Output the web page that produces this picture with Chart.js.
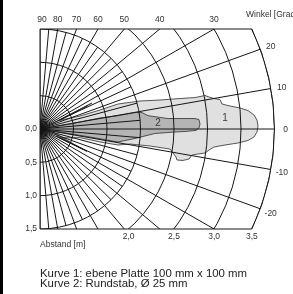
<!DOCTYPE html>
<html>
<head>
<meta charset="utf-8">
<script src="https://cdn.jsdelivr.net/npm/chart.js@4.4.1/dist/chart.umd.min.js"></script>
<style>
body{margin:0;background:#fff;}
#wrap{position:relative;width:293px;height:294px;overflow:hidden;background:#fff;}
#wrap:before{content:"";position:absolute;left:0;top:0;width:3px;height:294px;background:#000;}
canvas{position:absolute;left:0;top:0;}
.cap{position:absolute;left:40px;top:267.5px;font:11.4px "Liberation Sans",Arial,Helvetica,sans-serif;line-height:10px;color:#222;white-space:nowrap;}
</style>
</head>
<body>
<div id="wrap">
<canvas id="diagramm" width="293" height="294"></canvas>
<div class="cap">Kurve 1: ebene Platte 100 mm x 100 mm<br>Kurve 2: Rundstab, Ø 25 mm</div>
</div>
<script>

// Raster: Winkel in Grad, Abstand in m
var strahlen = [90, 80, 70, 60, 50, 40, 30, 20, 10, 0, -10, -20, -30, -40, -50, -60, -70, -80, -90];
var zwischenStrahlen = [85, 75, 65, 55, 45, 35, 25, 15, 5, -5, -15, -25, -35, -45, -55, -65, -75, -85];
var abstandRinge = [0.5, 1.0, 1.5, 2.0, 2.5, 3.0, 3.5];
var winkelOben = [90, 80, 70, 60, 50, 40, 30];
var winkelRechts = [20, 10, 0, -10, -20];
var abstandLinks = [0.0, 0.5, 1.0, 1.5];
var abstandUnten = [2.0, 2.5, 3.0, 3.5];

// Kurve 1: ebene Platte (x = Abstand, y = seitlich, in m)
var kurve1X = [0, 0.22, 0.776, 0.27, 0.716, 0.3, 0.597, 0.896, 1.164, 1.493, 1.791, 2.09, 2.313, 2.463, 2.522, 2.597, 2.687,
	2.716, 2.836, 2.985, 3.104, 3.194, 3.239, 3.254, 3.239, 3.194, 3.104, 2.955, 2.761, 2.597, 2.522, 2.463, 2.358,
	2.269, 2.224, 2.134, 2.045, 2.03, 1.94, 1.642, 1.343, 1.164, 0.896, 0.6, 0.3, 0.70, 0.27, 0.64, 0.24, 0.58, 0.2, 0];
var kurve1Y = [0, 0.1, 0.39, 0.125, 0.352, 0.13, 0.195, 0.285, 0.375, 0.42, 0.435, 0.457, 0.472, 0.502, 0.48, 0.457, 0.442,
	0.375, 0.345, 0.315, 0.277, 0.21, 0.135, 0.045, -0.045, -0.12, -0.172, -0.21, -0.24, -0.27, -0.315, -0.36, -0.375,
	-0.39, -0.45, -0.472, -0.465, -0.42, -0.3, -0.255, -0.225, -0.24, -0.195, -0.13, -0.135, -0.335, -0.12, -0.3, -0.105, -0.27, -0.05, 0];

// Kurve 2: Rundstab
var kurve2X = [0, 0.448, 0.896, 1.164, 1.418, 1.522, 1.612, 1.91, 2.164, 2.313, 2.373, 2.388, 2.373, 2.328, 2.164, 2.015,
	1.716, 1.418, 1.164, 0.746, 0.299, 0];
var kurve2Y = [0, 0.075, 0.165, 0.2, 0.247, 0.247, 0.2, 0.157, 0.157, 0.157, 0.142, 0.075, 0.015, -0.022, -0.037, -0.045,
	-0.067, -0.142, -0.195, -0.12, -0.045, 0];

var kurveNamen = ["1", "2"];
var kurveNameX = [2.761, 1.761];
var kurveNameY = [0.157, 0.082];

function punkte(xs, ys){
	return xs.map(function(x, i){ return {x: x, y: ys[i]}; });
}

function zahl(v){
	return v.toFixed(1).replace('.', ',');
}

var schrift = '"Liberation Sans", Arial, Helvetica, sans-serif';

var polarRaster = {
	id: 'polarRaster',
	afterDatasetsDraw: function(chart){
		var ctx = chart.ctx;
		var xs = chart.scales.x, ys = chart.scales.y, a = chart.chartArea;
		var ox = xs.getPixelForValue(0), oy = ys.getPixelForValue(0);
		var kx = xs.getPixelForValue(1) - ox, ky = oy - ys.getPixelForValue(1);
		var rMax = abstandRinge[abstandRinge.length - 1];
		var yMax = ys.max;

		ctx.save();
		ctx.beginPath();
		ctx.rect(a.left, a.top, a.right - a.left, a.bottom - a.top);
		ctx.clip();
		ctx.beginPath();
		ctx.ellipse(ox, oy, rMax * kx, rMax * ky, 0, 0, Math.PI * 2);
		ctx.clip();
		ctx.strokeStyle = '#161616';
		ctx.lineWidth = 1;

		abstandRinge.forEach(function(r){
			ctx.beginPath();
			ctx.ellipse(ox, oy, r * kx, r * ky, 0, 0, Math.PI * 2);
			ctx.stroke();
		});
		strahlen.forEach(function(w){
			var rad = w * Math.PI / 180;
			ctx.beginPath();
			ctx.moveTo(ox, oy);
			ctx.lineTo(xs.getPixelForValue(5 * Math.cos(rad)), ys.getPixelForValue(5 * Math.sin(rad)));
			ctx.stroke();
		});
		zwischenStrahlen.forEach(function(w){
			var rad = w * Math.PI / 180;
			ctx.beginPath();
			ctx.moveTo(ox, oy);
			ctx.lineTo(xs.getPixelForValue(1.5 * Math.cos(rad)), ys.getPixelForValue(1.5 * Math.sin(rad)));
			ctx.stroke();
		});
		ctx.restore();

		// Rahmen
		var xEcke = xs.getPixelForValue(Math.sqrt(rMax * rMax - yMax * yMax));
		var phi = Math.asin(yMax / rMax);
		ctx.save();
		ctx.strokeStyle = '#161616';
		ctx.lineWidth = 1;
		ctx.beginPath();
		ctx.moveTo(xEcke, a.top);
		ctx.lineTo(ox, a.top);
		ctx.lineTo(ox, a.bottom);
		ctx.lineTo(xEcke, a.bottom);
		ctx.stroke();
		ctx.beginPath();
		ctx.ellipse(ox, oy, rMax * kx, rMax * ky, 0, -phi, phi);
		ctx.stroke();
		ctx.restore();
	},
	afterDraw: function(chart){
		var ctx = chart.ctx;
		var xs = chart.scales.x, ys = chart.scales.y, a = chart.chartArea;
		var ox = xs.getPixelForValue(0);
		var rMax = abstandRinge[abstandRinge.length - 1];
		var yMax = ys.max;

		ctx.save();
		ctx.fillStyle = '#333';
		ctx.font = '8.5px ' + schrift;
		ctx.textBaseline = 'middle';

		ctx.textAlign = 'center';
		winkelOben.forEach(function(w){
			var rad = w * Math.PI / 180;
			var x = w === 90 ? 0 : yMax / Math.tan(rad);
			ctx.fillText(String(w), xs.getPixelForValue(x) + (w === 90 ? 2 : 0), a.top - 9.5);
		});
		winkelRechts.forEach(function(w){
			var rad = w * Math.PI / 180;
			var x = xs.getPixelForValue(rMax * Math.cos(rad)) + 11 * Math.cos(rad);
			var y = ys.getPixelForValue(rMax * Math.sin(rad)) - 11 * Math.sin(rad);
			ctx.fillText(String(w), x, y + 1);
		});
		abstandUnten.forEach(function(r){
			ctx.fillText(zahl(r), xs.getPixelForValue(Math.sqrt(r * r - yMax * yMax)), a.bottom + 7.5);
		});

		ctx.textAlign = 'right';
		abstandLinks.forEach(function(r){
			ctx.fillText(zahl(r), ox - 3, ys.getPixelForValue(-r));
		});

		ctx.textAlign = 'left';
		ctx.fillText('Abstand [m]', ox, a.bottom + 16);
		ctx.fillText('Winkel [Grad]', 246, 15);

		ctx.font = '10px ' + schrift;
		ctx.textAlign = 'center';
		ctx.fillStyle = '#3a3a3a';
		kurveNamen.forEach(function(n, i){
			ctx.fillText(n, xs.getPixelForValue(kurveNameX[i]), ys.getPixelForValue(kurveNameY[i]));
		});
		ctx.restore();
	}
};

var chart_element = document.getElementById('diagramm');
var chart_settings = {
	type: 'scatter',
	data: {
		datasets: [{
			label: 'Kurve 1',
			data: punkte(kurve1X, kurve1Y),
			showLine: true,
			fill: 'shape',
			backgroundColor: '#e0e0e0',
			borderColor: '#2e2e2e',
			borderWidth: 0.8,
			pointRadius: 0,
			tension: 0,
			order: 2
		}, {
			label: 'Kurve 2',
			data: punkte(kurve2X, kurve2Y),
			showLine: true,
			fill: 'shape',
			backgroundColor: '#b4b4b4',
			borderColor: '#2e2e2e',
			borderWidth: 0.8,
			pointRadius: 0,
			tension: 0,
			order: 1
		}]
	},
	options: {
		responsive: false,
		animation: false,
		devicePixelRatio: 1,
		layout: { padding: { left: 40, top: 29, right: 18.5, bottom: 65 } },
		scales: {
			x: { type: 'linear', min: 0, max: 3.5, display: false },
			y: { type: 'linear', min: -1.5, max: 1.5, display: false }
		},
		plugins: {
			legend: { display: false },
			tooltip: { enabled: false }
		}
	},
	plugins: [polarRaster]
};
var chart_diagramm = new Chart(chart_element, chart_settings);
</script>
</body>
</html>
